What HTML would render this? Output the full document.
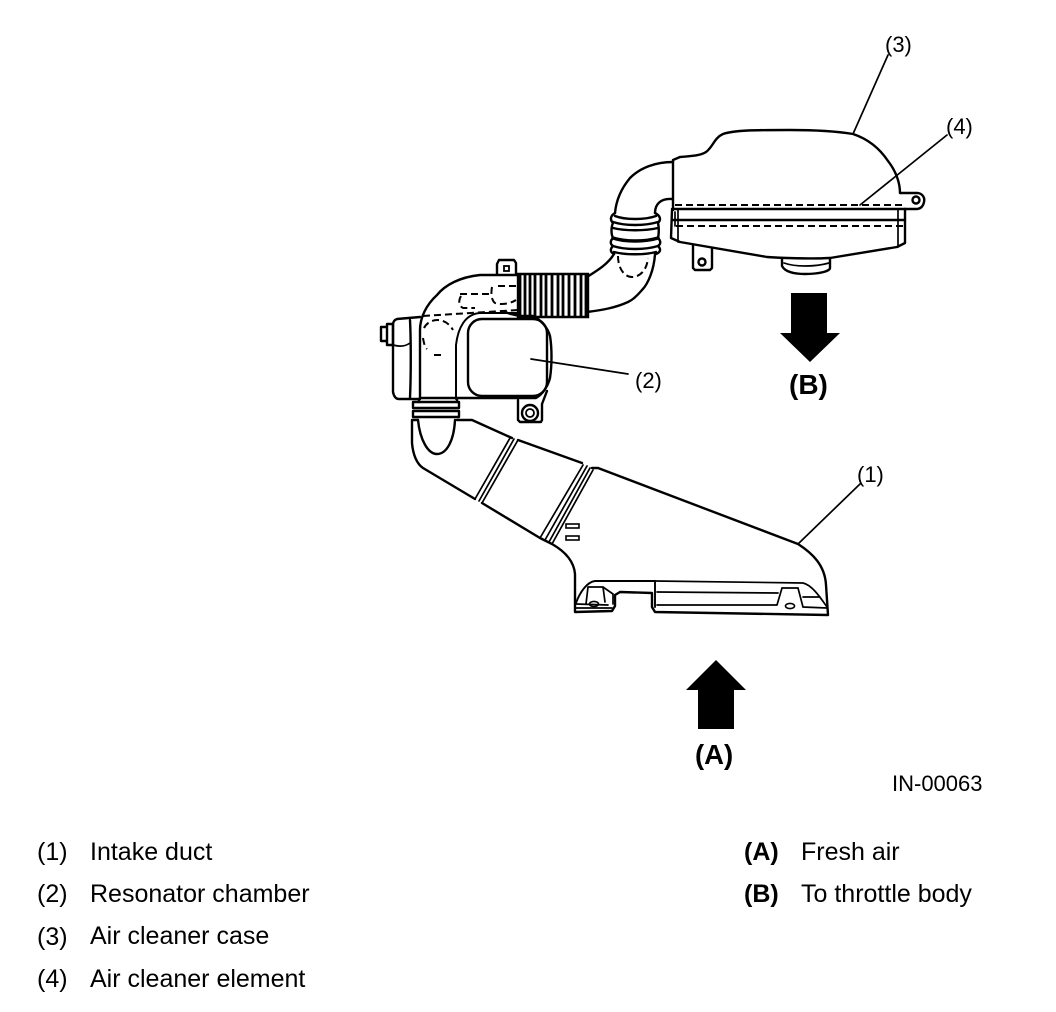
<!DOCTYPE html>
<html><head><meta charset="utf-8"><style>
html,body{margin:0;padding:0;background:#fff;width:1056px;height:1012px;overflow:hidden}
svg{display:block}
text{font-family:"Liberation Sans",sans-serif;fill:#000}
.m{fill:none;stroke:#000;stroke-width:2.4;stroke-linejoin:round;stroke-linecap:round}
.t{fill:none;stroke:#000;stroke-width:1.7;stroke-linecap:round}
.d{fill:none;stroke:#000;stroke-width:2;stroke-dasharray:7 4}
.l{font-size:25px}
.s{font-size:22px}
</style></head><body>
<svg width="1056" height="1012" viewBox="0 0 1056 1012" xmlns="http://www.w3.org/2000/svg">
<!-- Air cleaner case -->
<path class="m" d="M673 210V160L680 157C690 156 700 156 706 152C713 147 714 138 723 134C735 130 755 130 790 130C815 130 835 131 853 134C868 139 880 149 888 161C896 171 900 183 900 193"/>
<path class="m" d="M900 193H918C923 194 925 198 924 202C923 207 920 209 916 209H905"/>
<circle class="m" cx="916" cy="200" r="3.5"/>
<path class="d" d="M675 205H905"/>
<path class="m" d="M672 209H905"/>
<path class="m" d="M672 220H905"/>
<path class="d" d="M676 226H905"/>
<path class="m" d="M672 210L671 238L680 242L767 257C780 258 810 259 830 258L897 247L905 243V209"/>
<path class="t" d="M678 210V242M898 210V247M675 212V226"/>
<path class="m" d="M782 258V266C785 272 795 274 805 274C820 274 830 271 830 268V258"/>
<path class="t" d="M784 263C795 267 815 267 829 263"/>
<path class="m" d="M693 245V268L695 270H710L712 268V248"/>
<circle class="m" cx="702" cy="262" r="3.5"/>
<!-- Elbow -->
<path class="m" d="M673 162C655 162 640 168 630 178C620 190 616 202 615 213"/>
<path class="m" d="M672 199C660 198 655 205 655 213"/>
<!-- Rings -->
<path class="m" d="M615 213C610 216 610 220 613 223C611 227 611 234 613 238C610 241 610 244 613 246C610 249 610 252 614 254"/>
<path class="m" d="M655 213C661 216 661 220 658 223C659 227 659 234 658 238C661 241 661 244 658 246C661 249 661 252 656 254"/>
<path class="m" d="M615 216C625 220 645 220 656 216M613 222C625 226 645 226 658 222M613 228C625 231 645 231 658 228"/>
<path class="m" d="M613 238C625 242 645 242 658 238" style="stroke-width:3.4"/>
<path class="m" d="M613 246C625 250 645 250 658 246M614 252C625 255 645 255 656 252"/>
<!-- Lower hose -->
<path class="m" d="M614 254C608 264 598 270 587 277"/>
<path class="m" d="M655 254C654 270 648 284 642 290C635 298 632 300 628 302C615 308 602 310 587 312"/>
<path class="d" d="M618 256C618 268 624 277 632 277C640 277 647 270 648 258"/>
<!-- Corrugated -->
<path d="M518 274h70v43h-70z" fill="#fff" stroke="#000" stroke-width="2.4"/>
<g stroke="#000" stroke-width="2.8"><path d="M520 273V318M525 273V318M530 273V318M535 273V318M541 273V318M546 273V318M552 273V318M558 273V318M563 273V318M569 273V318M575 273V318M581 273V318M586 273V318"/></g>
<!-- Tab -->
<path class="m" d="M497 274V264L499 260H514L516 263V274"/>
<rect x="504" y="266" width="5" height="5" fill="#fff" stroke="#000" stroke-width="1.8"/>
<!-- Resonator -->
<path class="m" d="M518 275H480C460 277 445 285 437 295C426 305 420 318 420 330V399"/>
<path class="d" d="M423 316L518 310"/>
<path class="d" d="M460 294H492M461 296C458 301 459 306 463 308H475M492 287C491 292 491 300 495 303C500 305 510 304 516 300M498 286H516"/>
<path class="m" d="M519 313H480C465 314 458 328 456 345V399" style="stroke-width:2"/>
<path class="m" d="M505 312C510 314 515 315 520 316H533C541 320 548 328 550 336C552 348 552 365 550 378C548 386 543 394 536 398H420"/>
<rect class="m" x="468" y="319" width="79" height="77" rx="14"/>
<!-- Dashed circle -->
<path class="d" d="M424 328C429 318 445 316 453 330M423 338C424 344 425 347 427 349M434 355H444"/>
<!-- Left cap -->
<path class="m" d="M420 317L397 319C394 320 393 322 393 325V392C394 397 396 399 399 399H420"/>
<path class="m" d="M410 320C411 340 411 375 410 398"/>
<path class="t" d="M393 345C400 347 406 346 410 343"/>
<path class="m" d="M387 324H393V345H387ZM387 327H381V341H387"/>
<!-- Clamp -->
<rect class="m" x="413" y="402" width="46" height="6" fill="#fff"/>
<rect class="m" x="413" y="411" width="46" height="6" fill="#fff"/>
<path class="m" d="M419 399V402M457 399V402"/>
<!-- Lower bracket -->
<path class="m" d="M518 400V420L520 422H541L542 420V404L547 391"/>
<circle class="m" cx="530" cy="413" r="8"/><circle class="m" cx="530" cy="413" r="4" style="stroke-width:1.8"/>
<!-- Intake duct -->
<path class="m" d="M418 420H412V443C413 455 417 464 423 468L475 499"/>
<path class="m" d="M457 420H472L512 438M518 440L582 463M592 468H598L798 544C812 553 825 565 826 585L828 615L655 612L652 607V593L620 592L615 595V606L612 611L575 612V574C574 562 566 552 552 544L540 538L482 503"/>
<path class="m" d="M418 420C420 440 428 454 437 454C447 454 454 440 455 420"/>
<g class="t"><path d="M475 499L510 438M479 501L514 439M482 503L518 440"/>
<path d="M540 538L583 465M545 540L587 466M549 542L590 468M552 544L593 470"/></g>
<rect x="566" y="524" width="13" height="4" fill="#fff" stroke="#000" stroke-width="1.6"/>
<rect x="566" y="536" width="13" height="4" fill="#fff" stroke="#000" stroke-width="1.6"/>
<path class="m" d="M576 603C580 592 587 582 595 581H655V607" style="stroke-width:1.9"/>
<path class="t" d="M655 581L803 583C812 585 820 597 827 607M657 592L778 593M657 605L777 605M777 605L782 588H798L803 607L827 608M803 597H820"/>
<path class="t" d="M576 604L608 605M588 587H603L613 594V604M588 587L586 604M603 587L605 602M576 608H612"/>
<ellipse cx="594" cy="604" rx="4.5" ry="2.6" fill="none" stroke="#000" stroke-width="1.6"/>
<ellipse cx="790" cy="606" rx="4.5" ry="2.6" fill="none" stroke="#000" stroke-width="1.6"/>
<!-- Leaders -->
<g class="t"><path d="M853 134L888 55M860 205L947 135M531 359L628 374M798 544L860 484"/></g>
<!-- Arrows -->
<path d="M791 293H827V333H840L810 362L780 333H791Z" fill="#000"/>
<path d="M716 660L746 690H734V729H698V690H686Z" fill="#000"/>
<!-- Callouts -->
<text class="s" x="885" y="52">(3)</text>
<text class="s" x="946" y="134">(4)</text>
<text class="s" x="635" y="388">(2)</text>
<text class="s" x="857" y="482">(1)</text>
<text x="789" y="394" font-size="28" font-weight="bold">(B)</text>
<text x="695" y="764" font-size="27.5" font-weight="bold">(A)</text>
<text class="s" x="892" y="791">IN-00063</text>
<!-- Legend -->
<text class="l" x="37" y="860">(1)</text>
<text class="l" x="90" y="860">Intake duct</text>
<text class="l" x="37" y="902">(2)</text>
<text class="l" x="90" y="902">Resonator chamber</text>
<text class="l" x="37" y="945">(3)</text>
<text class="l" x="90" y="944">Air cleaner case</text>
<text class="l" x="37" y="987">(4)</text>
<text class="l" x="90" y="987">Air cleaner element</text>
<text x="744" y="860" font-size="25" font-weight="bold">(A)</text>
<text class="l" x="801" y="860">Fresh air</text>
<text x="744" y="902" font-size="25" font-weight="bold">(B)</text>
<text class="l" x="801" y="902">To throttle body</text>
</svg>
</body></html>
